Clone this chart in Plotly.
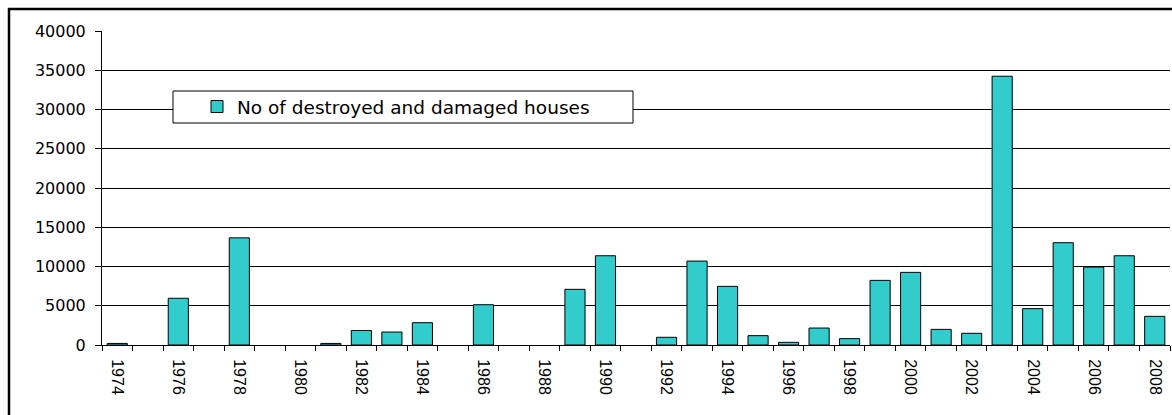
import plotly.graph_objects as go

years = list(range(1974, 2009))
houses = [200, None, 5950, None, 13650, None, None, 200, 1850, 1650,
          2840, None, 5130, None, None, 7090, 11370, None, 980, 10690,
          7470, 1190, 340, 2160, 810, 8230, 9250, 1990, 1490, 34240,
          4630, 13030, 9930, 11370, 3650]
label_years = list(range(1974, 2009, 2))
y_ticks = list(range(0, 40001, 5000))
series_name = "No of destroyed and damaged houses"

W, H = 1172, 415
L, R, T, B = 102, 2, 31, 70
pw, ph = W - L - R, H - T - B

def px_x(p):
    return (p - L) / pw

def px_y(p):
    return (H - B - p) / ph

fig = go.Figure()
fig.add_trace(go.Bar(
    x=years, y=houses, name=series_name, width=0.66,
    marker=dict(color="#33CCCC", line=dict(color="black", width=1)),
    showlegend=True,
))

fig.update_layout(
    width=W, height=H,
    margin=dict(l=L, r=R, t=T, b=B, autoexpand=False),
    paper_bgcolor="white", plot_bgcolor="white",
    showlegend=True,
    legend=dict(x=px_x(197), xanchor="left", y=px_y(107), yanchor="middle",
                bgcolor="rgba(0,0,0,0)", borderwidth=0,
                font=dict(family="DejaVu Sans", size=18.5, color="black")),
    xaxis=dict(
        range=[years[0] - 0.5, years[-1] + 0.5],
        tickvals=label_years, ticktext=[str(v) for v in label_years],
        tickangle=90, ticks="outside", ticklen=5, tickcolor="rgba(0,0,0,0)",
        ticklabelstandoff=5,
        minor=dict(ticks="outside", ticklen=5, tick0=years[0] - 0.5, dtick=1,
                   tickcolor="black", tickwidth=1, showgrid=False),
        showline=True, linecolor="black", linewidth=1,
        showgrid=False, zeroline=False,
        tickfont=dict(family="Liberation Sans", size=16, color="black"),
    ),
    yaxis=dict(
        range=[0, 40000], tickvals=y_ticks, tickformat="d",
        ticks="outside", ticklen=6, tickcolor="black",
        ticklabelstandoff=6,
        showline=True, linecolor="black", linewidth=1,
        showgrid=True, gridcolor="black", gridwidth=1,
        zeroline=False,
        tickfont=dict(family="DejaVu Sans", size=16, color="black"),
    ),
    shapes=[
        dict(type="rect", xref="paper", yref="paper",
             x0=px_x(173), x1=px_x(633), y0=px_y(123), y1=px_y(91),
             fillcolor="white", line=dict(color="black", width=1), layer="above"),
        dict(type="rect", xref="paper", yref="paper",
             x0=px_x(9), x1=px_x(1190), y0=px_y(430), y1=px_y(9),
             fillcolor="rgba(0,0,0,0)", line=dict(color="black", width=2.5), layer="above"),
    ],
)

fig.write_html("out.html", config={"displayModeBar": False},
               post_script="document.body.style.margin='0';document.body.style.overflow='hidden';")
